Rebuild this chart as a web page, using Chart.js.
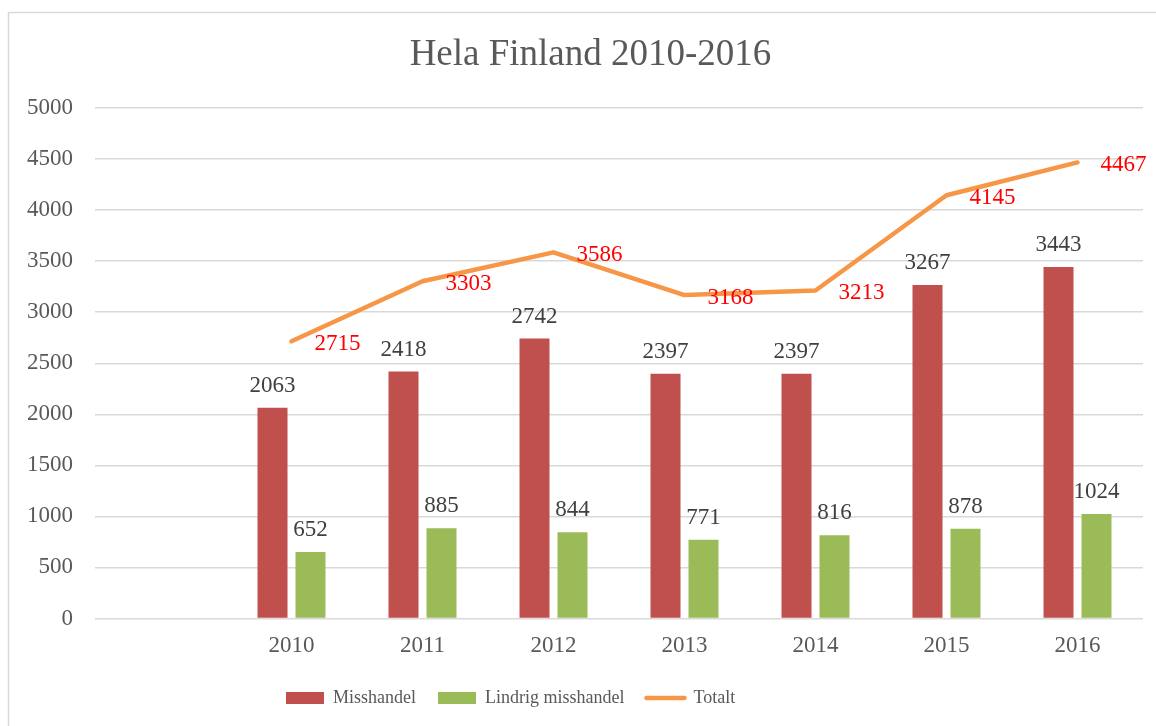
<!DOCTYPE html>
<html>
<head>
<meta charset="utf-8">
<script src="https://cdn.jsdelivr.net/npm/chart.js@4.4.0/dist/chart.umd.min.js"></script>
<style>
  html, body { margin: 0; padding: 0; background: #ffffff; overflow: hidden; }
  #wrap { position: absolute; left: 0; top: 0; width: 1156px; height: 726px; }
</style>
</head>
<body>
<div id="wrap"><canvas id="c" width="1156" height="726"></canvas></div>
<script>
const categories = ['', '2010', '2011', '2012', '2013', '2014', '2015', '2016'];
const misshandel = [null, 2063, 2418, 2742, 2397, 2397, 3267, 3443];
const lindrig = [null, 652, 885, 844, 771, 816, 878, 1024];
const totalt = [null, 2715, 3303, 3586, 3168, 3213, 4145, 4467];
const yTicks = [0, 500, 1000, 1500, 2000, 2500, 3000, 3500, 4000, 4500, 5000];

const FONT = "'Liberation Serif', 'Times New Roman', serif";

const borderPlugin = {
  id: 'outerBorder',
  beforeDraw(chart) {
    const ctx = chart.ctx;
    ctx.save();
    ctx.fillStyle = '#ffffff';
    ctx.fillRect(0, 0, chart.width, chart.height);
    ctx.strokeStyle = '#d9d9d9';
    ctx.lineWidth = 1.5;
    ctx.strokeRect(8.5, 12.5, chart.width + 50, chart.height + 50);
    ctx.restore();
  }
};

const blockShift = {
  id: 'blockShift',
  afterLayout(chart) {
    if (chart.legend) {
      chart.legend.left = 264;
    }
    if (chart.titleBlock) {
      chart.titleBlock.left = 38;
    }
  }
};

const valueLabels = {
  id: 'valueLabels',
  afterDatasetsDraw(chart) {
    const ctx = chart.ctx;
    ctx.save();
    ctx.font = '23px ' + FONT;
    ctx.textBaseline = 'alphabetic';
    chart.data.datasets.forEach((ds, di) => {
      const meta = chart.getDatasetMeta(di);
      meta.data.forEach((el, i) => {
        const v = ds.data[i];
        if (v === null || v === undefined) return;
        if (ds.type === 'line') {
          ctx.fillStyle = '#ff0000';
          ctx.textAlign = 'left';
          ctx.fillText(String(v), el.x + 23, el.y + 8.5);
        } else {
          ctx.fillStyle = '#404040';
          ctx.textAlign = 'center';
          ctx.fillText(String(v), el.x, el.y - 16);
        }
      });
    });
    ctx.restore();
  }
};

new Chart(document.getElementById('c'), {
  data: {
    labels: categories,
    datasets: [
      {
        type: 'bar',
        label: 'Misshandel',
        data: misshandel,
        backgroundColor: '#C0504D',
        categoryPercentage: 0.58,
        barPercentage: 0.79,
        order: 2
      },
      {
        type: 'bar',
        label: 'Lindrig misshandel',
        data: lindrig,
        backgroundColor: '#9BBB59',
        categoryPercentage: 0.58,
        barPercentage: 0.79,
        order: 2
      },
      {
        type: 'line',
        label: 'Totalt',
        data: totalt,
        borderColor: '#F79646',
        backgroundColor: '#F79646',
        borderWidth: 4.5,
        borderCapStyle: 'round',
        borderJoinStyle: 'round',
        pointRadius: 0,
        pointHoverRadius: 0,
        tension: 0,
        fill: false,
        order: 1
      }
    ]
  },
  options: {
    responsive: false,
    animation: false,
    devicePixelRatio: 1,
    layout: { padding: { top: 0, left: 0, right: 13, bottom: 9 } },
    plugins: {
      title: {
        display: true,
        text: 'Hela Finland 2010-2016',
        color: '#595959',
        font: { family: FONT, size: 37, weight: 'normal', lineHeight: 1.2 },
        padding: { top: 32.8, bottom: 30.8 }
      },
      legend: {
        display: true,
        position: 'bottom',
        align: 'start',
        labels: {
          color: '#595959',
          font: { family: FONT, size: 18 },
          usePointStyle: true,
          pointStyleWidth: 38,
          boxWidth: 38,
          boxHeight: 12,
          padding: 22,
          generateLabels(chart) {
            return chart.data.datasets.map((ds, i) => {
              const isLine = ds.type === 'line';
              return {
                text: ds.label,
                datasetIndex: i,
                fillStyle: ds.backgroundColor,
                strokeStyle: isLine ? ds.borderColor : ds.backgroundColor,
                lineWidth: isLine ? 4.5 : 0,
                lineCap: 'round',
                pointStyle: isLine ? 'line' : 'rect',
                fontColor: '#595959',
                hidden: false
              };
            });
          }
        }
      },
      tooltip: { enabled: false }
    },
    scales: {
      x: {
        grid: { display: false, drawTicks: false },
        border: { display: false },
        ticks: {
          color: '#595959',
          font: { family: FONT, size: 23 },
          padding: 14,
          maxRotation: 0,
          autoSkip: false
        },
        afterFit(scale) { scale.height = 48.5; }
      },
      y: {
        min: 0,
        max: 5000,
        grid: { color: '#d9d9d9', lineWidth: 1.5, drawTicks: false },
        border: { display: false },
        afterBuildTicks(scale) { scale.ticks = yTicks.map(v => ({ value: v })); },
        ticks: {
          color: '#595959',
          font: { family: FONT, size: 23 },
          padding: 22,
          callback: (v) => String(v)
        },
        afterFit(scale) { scale.width = 95; }
      }
    }
  },
  plugins: [borderPlugin, blockShift, valueLabels]
});
</script>
</body>
</html>
